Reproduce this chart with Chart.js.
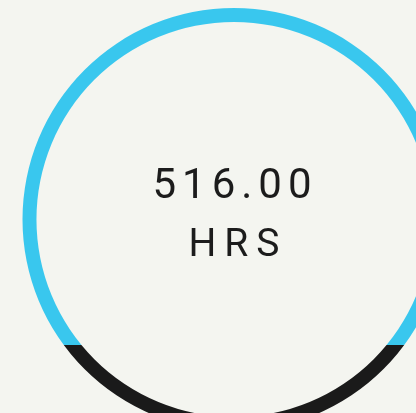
<!DOCTYPE html>
<html>
<head>
<meta charset="utf-8">
<script src="https://cdn.jsdelivr.net/npm/chart.js@4/dist/chart.umd.min.js"></script>
<style>
    html, body { margin: 0; padding: 0; background: #f4f5f0; overflow: hidden; }
    #wrap { position: absolute; left: 0; top: 0; width: 468px; height: 439px; }
</style>
</head>
<body>
<div id="wrap"><canvas id="hours" width="468" height="439"></canvas></div>
<script>
/** Data */
const labels = ['Hours'];
const hours = [516.00];
const unitLabel = 'HRS';
// share of the ring height filled with the dark colour, from the bottom
const fillLevel = [0.203];
const ringColors = ['#39c7ee', '#1a1a1a'];

/** Local functions */
let Local = {
    ringFill: function (context) {
        const chart = context.chart;
        const area = chart.chartArea;
        if (!area) return ringColors[0];
        const cy = (area.top + area.bottom) / 2;
        const r = Math.min(area.right - area.left, area.bottom - area.top) / 2;
        const g = chart.ctx.createLinearGradient(0, cy - r, 0, cy + r);
        const stop = 1 - fillLevel[0];
        g.addColorStop(0, ringColors[0]);
        g.addColorStop(stop, ringColors[0]);
        g.addColorStop(stop, ringColors[1]);
        g.addColorStop(1, ringColors[1]);
        return g;
    },
    drawSpaced: function (ctx, text, x, y, spacing) {
        ctx.letterSpacing = spacing + 'px';
        ctx.fillText(text, x, y);
    }
};

const centerText = {
    id: 'centerText',
    afterDraw: function (chart) {
        const area = chart.chartArea;
        const cx = (area.left + area.right) / 2;
        const cy = (area.top + area.bottom) / 2;
        const ctx = chart.ctx;
        ctx.save();
        ctx.fillStyle = '#1c1c1c';
        ctx.textAlign = 'center';
        ctx.textBaseline = 'alphabetic';
        ctx.font = '400 42px Roboto';
        Local.drawSpaced(ctx, hours[0].toFixed(2), cx + 1, cy - 22, 6);
        ctx.font = '400 39px Roboto';
        Local.drawSpaced(ctx, unitLabel, cx + 4, cy + 36.5, 8);
        ctx.restore();
    }
};

new Chart(document.getElementById('hours').getContext('2d'), {
    type: 'doughnut',
    data: {
        labels: labels,
        datasets: [{
            data: hours,
            backgroundColor: Local.ringFill,
            borderWidth: 0
        }]
    },
    options: {
        responsive: false,
        animation: false,
        cutout: '93.4%',
        layout: { padding: 8 },
        plugins: {
            legend: { display: false },
            tooltip: { enabled: false }
        }
    },
    plugins: [centerText]
});
</script>
</body>
</html>
